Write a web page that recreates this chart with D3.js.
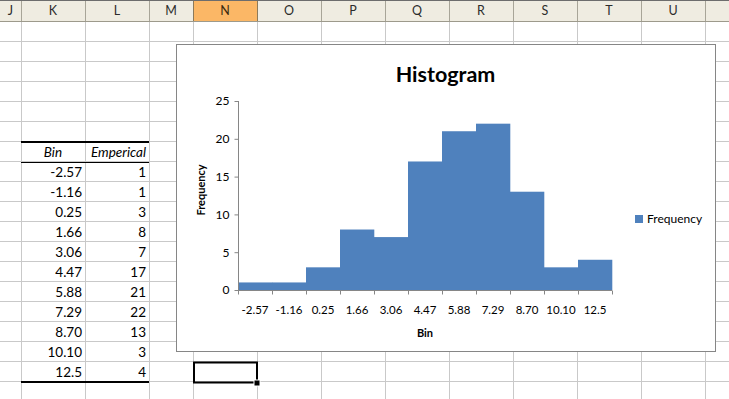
<!DOCTYPE html>
<html>
<head>
<meta charset="utf-8">
<script src="https://cdnjs.cloudflare.com/ajax/libs/d3/7.8.5/d3.min.js"></script>
<style>
  body { margin: 0; background: #fff; }
  svg { display: block; font-family: Lato, "Liberation Sans", sans-serif; }
</style>
</head>
<body>
<svg id="sheet" width="729" height="399"></svg>
<script>
// histogram data (same as the sheet table)
const bins = ["-2.57", "-1.16", "0.25", "1.66", "3.06", "4.47", "5.88", "7.29", "8.70", "10.10", "12.5"];
const emperical = [1, 1, 3, 8, 7, 17, 21, 22, 13, 3, 4];
const yTicks = [0, 5, 10, 15, 20, 25];
const columnLetters = ["J", "K", "L", "M", "N", "O", "P", "Q", "R", "S", "T", "U", ""];

const W = 729, H = 399;
const svg = d3.select("#sheet");

// ---- spreadsheet grid ----
const colEdges = [0, 21, 85, 149, 193, 257, 321, 385, 449, 513, 577, 641, 705, 769];
const headerH = 21;
const rowH = 20;

const grid = svg.append("g");
d3.range(headerH + 0.5, H, rowH).forEach(y => {
    grid.append("line").attr("x1", 0).attr("x2", W).attr("y1", y).attr("y2", y)
        .attr("stroke", "#c9c9c9");
});
colEdges.slice(1, -1).forEach(x => {
    grid.append("line").attr("x1", x + 0.5).attr("x2", x + 0.5).attr("y1", headerH).attr("y2", H)
        .attr("stroke", "#c9c9c9");
});

// column headers
const header = svg.append("g");
header.append("rect").attr("x", 0).attr("y", 0).attr("width", W).attr("height", headerH)
    .attr("fill", "#efece1");
columnLetters.forEach((c, i) => {
    const x0 = colEdges[i], x1 = colEdges[i + 1];
    if (c === "N") {
        header.append("rect").attr("x", x0 + 1).attr("y", 1).attr("width", x1 - x0 - 1).attr("height", headerH - 1)
            .attr("fill", "#fbb766");
    }
    header.append("line").attr("x1", x1 + 0.5).attr("x2", x1 + 0.5).attr("y1", 1).attr("y2", headerH)
        .attr("stroke", c === "M" || c === "N" ? "#8c7a5a" : "#a8a598");
    if (c) {
        header.append("text").attr("x", (x0 + x1) / 2).attr("y", 15)
            .attr("text-anchor", "middle").attr("font-size", 12.5)
            .attr("fill", c === "N" ? "#3a2a10" : "#2c2c2c").text(c);
    }
});
header.append("line").attr("x1", 0).attr("x2", W).attr("y1", 0.5).attr("y2", 0.5).attr("stroke", "#6d6d6d");
header.append("line").attr("x1", 0).attr("x2", W).attr("y1", headerH + 0.5).attr("y2", headerH + 0.5).attr("stroke", "#9d9a8c");

// ---- data table (columns K and L) ----
const table = svg.append("g").attr("font-size", 13.5).attr("fill", "#000");
const kx0 = colEdges[1], kx1 = colEdges[2], lx1 = colEdges[3];
const tableTop = 142;
table.append("line").attr("x1", kx0).attr("x2", lx1).attr("y1", tableTop).attr("y2", tableTop)
    .attr("stroke", "#000").attr("stroke-width", 2);
table.append("line").attr("x1", kx0).attr("x2", lx1).attr("y1", tableTop + rowH + 0.5).attr("y2", tableTop + rowH + 0.5)
    .attr("stroke", "#000");
table.append("text").attr("x", (kx0 + kx1) / 2).attr("y", tableTop + 15)
    .attr("text-anchor", "middle").attr("font-style", "italic").text("Bin");
table.append("text").attr("x", lx1 - 3).attr("y", tableTop + 15)
    .attr("text-anchor", "end").attr("font-style", "italic").text("Emperical");
bins.forEach((b, i) => {
    const y = tableTop + rowH * (i + 1) + 15;
    table.append("text").attr("x", kx1 - 3).attr("y", y).attr("text-anchor", "end").text(b);
    table.append("text").attr("x", lx1 - 3).attr("y", y).attr("text-anchor", "end").text(emperical[i]);
});
const tableBottom = tableTop + rowH * (bins.length + 1);
table.append("line").attr("x1", kx0).attr("x2", lx1).attr("y1", tableBottom).attr("y2", tableBottom)
    .attr("stroke", "#000").attr("stroke-width", 2);

// active cell N
const sel = svg.append("g");
sel.append("rect").attr("x", colEdges[4] + 1).attr("y", 362.5).attr("width", 63).attr("height", 20)
    .attr("fill", "none").attr("stroke", "#000").attr("stroke-width", 2);
sel.append("rect").attr("x", colEdges[5] - 3).attr("y", 380).attr("width", 6).attr("height", 6)
    .attr("fill", "#000").attr("stroke", "#fff").attr("stroke-width", 1);

// ---- chart ----
const chart = svg.append("g");
chart.append("rect").attr("x", 176.5).attr("y", 44.5).attr("width", 539).attr("height", 307)
    .attr("fill", "#fff").attr("stroke", "#868686");

const x = d3.scaleBand().domain(bins).range([238, 612]).padding(0);
const y = d3.scaleLinear().domain([0, 25]).range([290, 101]);

chart.append("text").attr("x", 445.5).attr("y", 82)
    .attr("text-anchor", "middle").attr("font-size", 21.5).attr("font-weight", "bold").text("Histogram");

chart.append("g").selectAll("rect")
    .data(bins.map((b, i) => ({bin: b, value: emperical[i]})))
    .enter()
    .append("rect")
    .attr("x", d => x(d.bin))
    .attr("y", d => y(d.value))
    .attr("width", x.bandwidth() + 0.3)
    .attr("height", d => y(0) - y(d.value))
    .attr("fill", "#4f81bd");

// y axis
const yAxis = chart.append("g").attr("transform", "translate(238.5,0)")
    .call(d3.axisLeft(y).tickValues(yTicks).tickSize(4).tickPadding(5));
yAxis.selectAll("line, path").attr("stroke", "#868686");
yAxis.selectAll("text").attr("font-size", 12).attr("font-family", "Lato").attr("fill", "#000");
yAxis.select(".domain").attr("d", `M-0,${y(25)}V${y(0)}`);

// x axis: labels centred on bars, ticks between bars
const xAxis = chart.append("g").attr("transform", `translate(0,${y(0) + 0.5})`)
    .call(d3.axisBottom(x).tickSize(0).tickPadding(15));
xAxis.select(".domain").attr("stroke", "#868686").attr("d", `M${x.range()[0]},0H${x.range()[1]}`);
xAxis.selectAll("text").attr("font-size", 11.5).attr("font-family", "Lato").attr("fill", "#000");
xAxis.selectAll(".edge").data(bins.map(b => x(b)).concat([x.range()[1]]))
    .enter().append("line").attr("class", "edge")
    .attr("x1", d => d + 0.5).attr("x2", d => d + 0.5).attr("y1", 0).attr("y2", 4)
    .attr("stroke", "#868686");

// axis titles
chart.append("text").attr("x", 425).attr("y", 337)
    .attr("text-anchor", "middle").attr("font-size", 11).attr("font-weight", "bold").text("Bin");
chart.append("text").attr("transform", "translate(205,190) rotate(-90)")
    .attr("text-anchor", "middle").attr("font-size", 11).attr("font-weight", "bold").text("Frequency");

// legend
chart.append("rect").attr("x", 635).attr("y", 215).attr("width", 8).attr("height", 8).attr("fill", "#4f81bd");
chart.append("text").attr("x", 647).attr("y", 223).attr("font-size", 12).text("Frequency");
</script>
</body>
</html>
